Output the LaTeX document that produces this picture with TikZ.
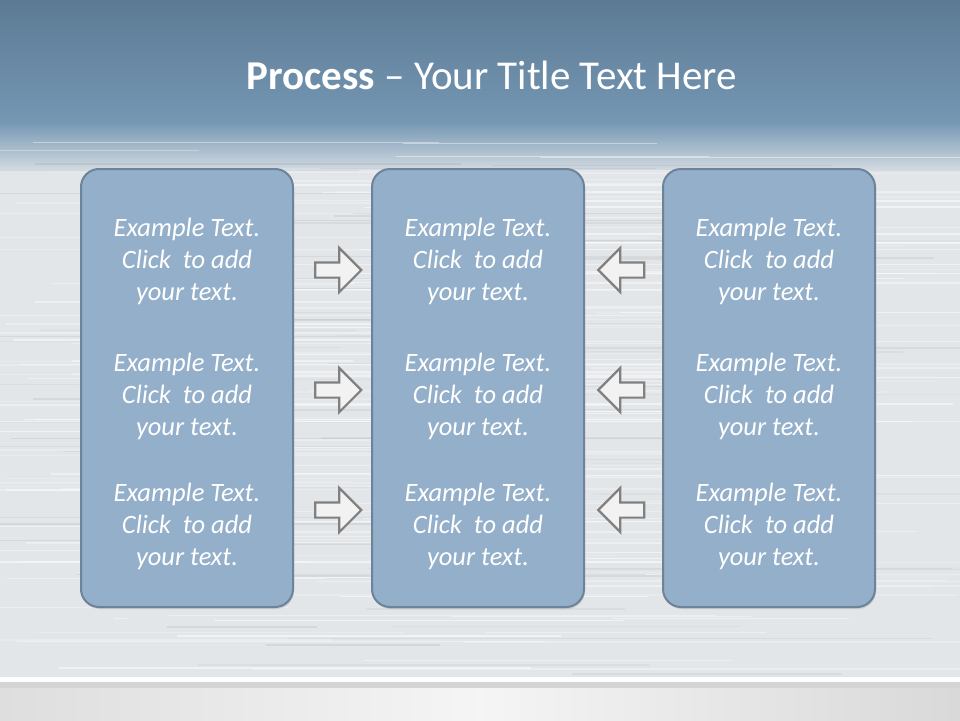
\documentclass[tikz,border=0pt]{standalone}
\usepackage{fontspec}
\setmainfont{Carlito}
\usetikzlibrary{shapes.arrows,shadows}
\definecolor{boxfill}{HTML}{93AFC9}
\definecolor{boxline}{HTML}{6C8399}
\definecolor{arrfill}{HTML}{F2F2F2}
\definecolor{arrline}{HTML}{808080}
\definecolor{topA}{HTML}{5C7A94}
\definecolor{topB}{HTML}{7597B3}
\definecolor{metal}{HTML}{E3E6E9}
\begin{document}
\begin{tikzpicture}[x=1pt,y=-1pt,
  panel/.style={draw=boxline,line width=2pt,fill=boxfill,rounded corners=18pt,
    minimum width=212pt,minimum height=438pt,
    drop shadow={opacity=0.25,shadow xshift=1pt,shadow yshift=-2pt}},
  txt/.style={text=white,font=\fontsize{26.5}{32}\selectfont\itshape,align=center},
  blockarrow/.style={single arrow,draw=arrline,fill=arrfill,line width=2.2pt,
    minimum width=42pt,minimum height=46pt,inner sep=6.5pt,single arrow head extend=14.5pt},
  streak/.style={line width=1.3pt}
]
\useasboundingbox (0,0) rectangle (960,720);
% background
\fill[metal] (0,0) rectangle (960,720);
\shade[top color=topA,bottom color=topB] (0,0) rectangle (960,122);
\shade[top color=topB,bottom color=metal!85!topB] (0,122) rectangle (960,170);
\pgfmathsetseed{7}
\foreach \i in {1,...,170}{
  \pgfmathsetmacro\yy{140+rnd*535}
  \pgfmathsetmacro\xa{-100+rnd*700}
  \pgfmathsetmacro\xl{200+rnd*600}
  \pgfmathsetmacro\op{0.15+rnd*0.35}
  \draw[streak,white,opacity=\op] (\xa,\yy) -- ++(\xl,0);
}
\foreach \i in {1,...,60}{
  \pgfmathsetmacro\yy{140+rnd*535}
  \pgfmathsetmacro\xa{-100+rnd*700}
  \pgfmathsetmacro\xl{150+rnd*500}
  \pgfmathsetmacro\op{0.04+rnd*0.08}
  \draw[streak,black!60,opacity=\op] (\xa,\yy) -- ++(\xl,0);
}
\fill[white] (0,677) rectangle (960,682);
\fill[black!17] (0,682) rectangle (960,688);
\shade[left color=black!13,right color=black!15,middle color=white!96!black] (0,688) rectangle (960,720);
% panels
\node[panel] (L) at (187,388) {};
\node[panel] (M) at (478,388) {};
\node[panel] (R) at (769,388) {};
% texts
\foreach \p/\x in {L/187,M/478,R/769}{
  \foreach \k/\y in {1/261,2/396,3/526}{
    \node[txt] (\p t\k) at (\x,\y) {Example Text.\\Click\ \ to add\\your text.};
  }
}
% arrows
\foreach \k/\y in {1/270,2/390,3/510}{
  \node[blockarrow] (ra\k) at (334.5,\y) {};
  \node[blockarrow,shape border rotate=180] (la\k) at (625,\y) {};
}
% title
\node[text=white,font=\fontsize{41}{48}\selectfont] (title) at (492,75) {\textbf{Process} -- Your Title Text Here};
\end{tikzpicture}
\end{document}
